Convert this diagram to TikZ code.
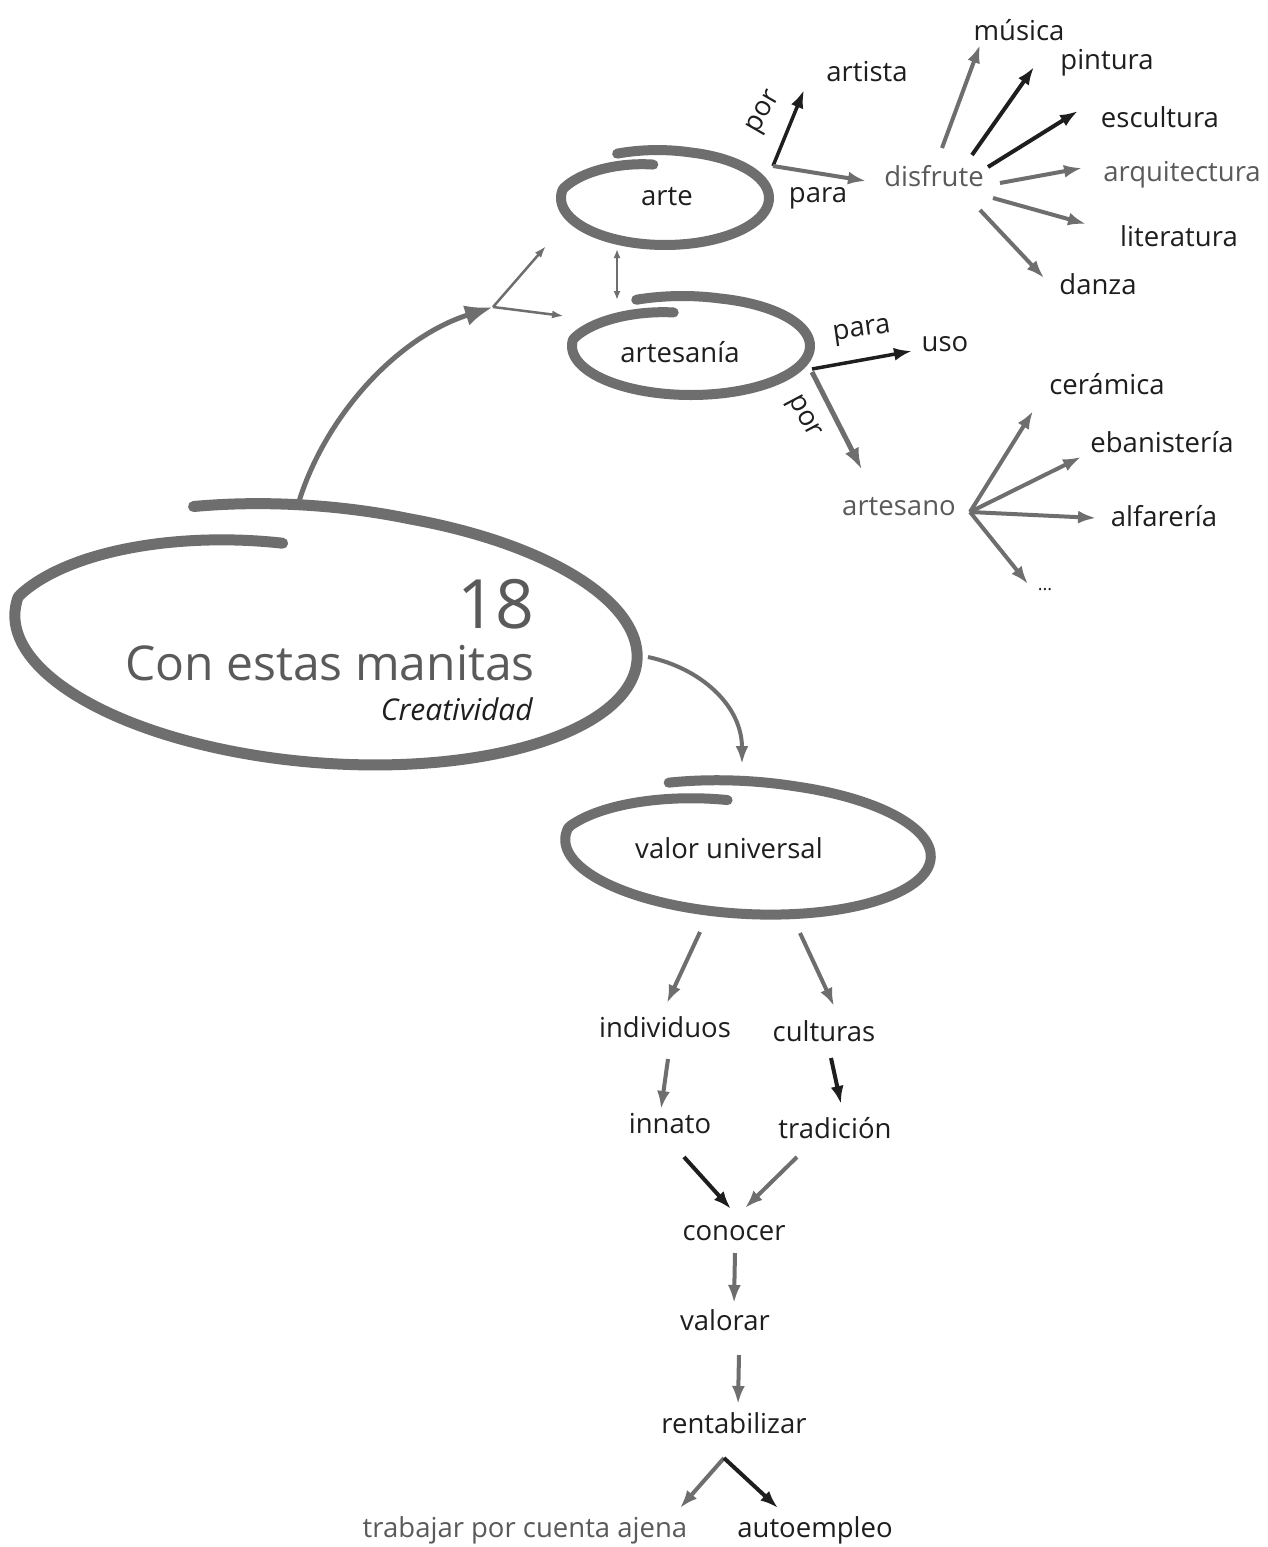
\documentclass[tikz,border=0pt]{standalone}
\usepackage{fontspec}
\setmainfont{Open Sans}
\usetikzlibrary{arrows.meta}
\definecolor{ink}{HTML}{1E1E1E}
\definecolor{pen}{HTML}{6E6E6E}
\definecolor{soft}{HTML}{5A5A5A}
\tikzset{
 lbl/.style={font=\fontsize{27.5}{30}\selectfont, text=ink, inner sep=0pt},
 lblg/.style={lbl, text=soft},
 ring/.style={draw=pen, line width=10pt, line cap=round, line join=round},
 arr/.style={draw=pen, line width=4pt, -{Latex[length=18pt,width=13pt]}},
 arrk/.style={arr, draw=ink},
 thin/.style={draw=pen, line width=2.5pt, -{Latex[length=12pt,width=8pt]}},
}
% cx cy rx ry rot t0 t1 s0 s1
\newcommand\handring[9]{%
 \begin{scope}[shift={(#1,#2)},rotate=#5]
 \draw[ring] plot[domain=#6:#7,samples=160,smooth,variable=\t]
  ({(1+(#8-1)*max(0,1-(\t-(#6))/40)+(#9-1)*max(0,1-((#7)-\t)/70))*#3*cos(\t)},
   {(1+(#8-1)*max(0,1-(\t-(#6))/40)+(#9-1)*max(0,1-((#7)-\t)/70))*#4*sin(\t)});
 \end{scope}}
\begin{document}
\begin{tikzpicture}[x=1pt,y=-1pt]
\useasboundingbox[fill=white] (0,0) rectangle (1267,1547);

% ---------- rings ----------
\begin{scope}[ring/.append style={line width=11pt}]
\handring{326}{636}{312}{127}{-4.5}{-116}{257}{1.04}{0.72}
\end{scope}
\handring{665}{198}{104}{47}{0}{-116}{261}{1.05}{0.72}
\handring{691}{346}{119}{49}{0}{-116}{258}{1.05}{0.7}
\handring{748}{848}{183}{66}{-3}{-116}{260}{1.03}{0.72}

% ---------- main title ----------
\node[font=\fontsize{68}{70}\selectfont, text=soft, anchor=base east, inner sep=0pt] (num) at (535,628) {18};
\node[font=\fontsize{48}{50}\selectfont, text=soft, anchor=base east, inner sep=0pt] (title) at (535,680) {Con estas manitas};
\node[font=\itshape\fontsize{30}{32}\selectfont, text=ink, anchor=base east, inner sep=0pt] (sub) at (533,720) {Creatividad};

% ---------- top nodes ----------
\node[lbl] (arte) at (667,197) {arte};
\node[lbl] (artesania) at (680,352) {artesanía};
\node[lbl] (artista) at (867,72) {artista};
\node[lblg] (disfrute) at (934,176) {disfrute};
\node[lbl] (musica) at (1019,30) {música};
\node[lbl] (pintura) at (1107,63) {pintura};
\node[lbl] (escultura) at (1160,117) {escultura};
\node[lblg] (arquitectura) at (1182,175) {arquitectura};
\node[lbl] (literatura) at (1179,236) {literatura};
\node[lbl] (danza) at (1098,284) {danza};
\node[lbl] (uso) at (945,344) {uso};
\node[lblg] (artesano) at (899,507) {artesano};
\node[lbl] (ceramica) at (1107,384) {cerámica};
\node[lbl] (ebanisteria) at (1162,442) {ebanistería};
\node[lbl] (alfareria) at (1164,516) {alfarería};
\node[lbl, font=\fontsize{18}{20}\selectfont] (etc) at (1045,590) {...};

\node[lbl, rotate=60] (por1) at (765,113) {por};
\node[lbl] (para1) at (818,198) {para};
\node[lbl, rotate=8] (para2) at (862,332) {para};
\node[lbl, rotate=-62] (por2) at (803,417) {por};

% ---------- lower nodes ----------
\node[lbl] (valor) at (729,848) {valor universal};
\node[lbl] (individuos) at (665,1027) {individuos};
\node[lbl] (culturas) at (824,1031) {culturas};
\node[lbl] (innato) at (670,1124) {innato};
\node[lbl] (tradicion) at (835,1128) {tradición};
\node[lbl] (conocer) at (734,1233) {conocer};
\node[lbl] (valorar) at (725,1320) {valorar};
\node[lbl] (rentab) at (734,1423) {rentabilizar};
\node[lblg] (trabajar) at (525,1530) {trabajar por cuenta ajena};
\node[lbl] (autoempleo) at (815,1530) {autoempleo};

% ---------- coordinates ----------
\coordinate (mainTop) at (297,508);
\coordinate (mainRight) at (648,657);
\coordinate (vtx) at (493,307);
\coordinate (toArte) at (546,246);
\coordinate (toArtesania) at (564,316);
\coordinate (arteBot) at (617,249);
\coordinate (artesaniaTop) at (617,300);
\coordinate (arteR) at (773,166);
\coordinate (artistaIn) at (804,90);
\coordinate (disfruteIn) at (866,181);
\coordinate (artesaniaR) at (812,369);
\coordinate (usoIn) at (912,351);
\coordinate (artesaniaR2) at (812,372);
\coordinate (artesanoIn) at (862,470);
\coordinate (artesanoOut) at (970,512);
\coordinate (valorIn) at (742,764);
\coordinate (valorL) at (700,932);
\coordinate (valorR) at (800,933);
\coordinate (rentabV) at (724,1458);

% ---------- connectors ----------
\draw[arr, line width=5pt, -{Latex[length=28pt,width=21pt]}] (mainTop) .. controls (322,420) and (395,338) .. (vtx);
\draw[thin] (vtx) -- (toArte);
\draw[thin] (vtx) -- (toArtesania);
\draw[draw=pen, line width=2pt, {Latex[length=9pt,width=7pt]}-{Latex[length=9pt,width=7pt]}] (arteBot) -- (artesaniaTop);

\draw[arrk, line width=3.5pt] (arteR) -- (artistaIn);
\draw[arr] (arteR) -- (disfruteIn);

\draw[arr] (942,148) -- (980,45);
\draw[arrk] (972,155) -- (1034,67);
\draw[arrk] (988,167) -- (1078,111);
\draw[arr] (1000,183) -- (1082,168);
\draw[arr] (993,198) -- (1086,224);
\draw[arr] (980,210) -- (1044,278);

\draw[arrk, line width=3.5pt] (artesaniaR) -- (usoIn);
\draw[arr, line width=5pt, -{Latex[length=22pt,width=15pt]}] (artesaniaR2) -- (artesanoIn);

\draw[arr] (artesanoOut) -- (1033,411);
\draw[arr] (artesanoOut) -- (1081,457);
\draw[arr] (artesanoOut) -- (1096,518);
\draw[arr] (artesanoOut) -- (1028,584);

\draw[arr] (mainRight) .. controls (700,668) and (742,705) .. (valorIn);
\draw[arr] (valorL) -- (667,1003);
\draw[arr] (valorR) -- (834,1006);

\draw[arr] (668,1059) -- (661,1109);
\draw[arrk] (831,1058) -- (841,1104);
\draw[arrk] (684,1157) -- (731,1209);
\draw[arr] (797,1157) -- (745,1208);
\draw[arr] (735,1253) -- (734,1303);
\draw[arr] (739,1355) -- (738,1404);
\draw[arr] (rentabV) -- (680,1508);
\draw[arrk] (rentabV) -- (778,1508);
\end{tikzpicture}
\end{document}
